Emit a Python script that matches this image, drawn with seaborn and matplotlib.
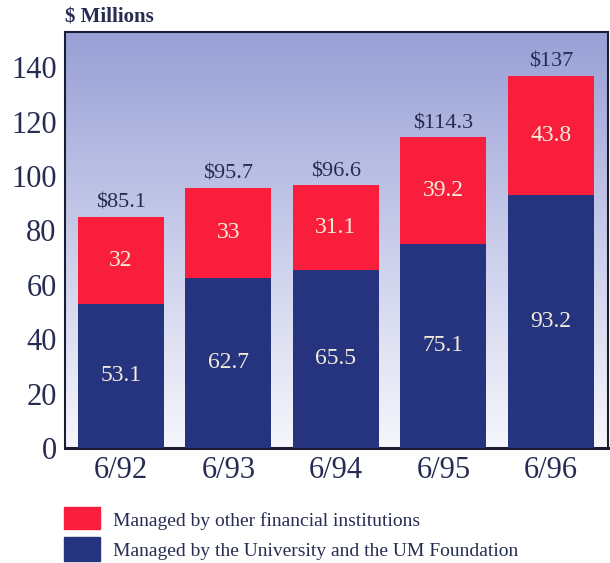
import numpy as np
import pandas as pd
import matplotlib.pyplot as plt
import seaborn as sns
from matplotlib.colors import LinearSegmentedColormap

# data
periods = ['6/92', '6/93', '6/94', '6/95', '6/96']
university = [53.1, 62.7, 65.5, 75.1, 93.2]
other = [32, 33, 31.1, 39.2, 43.8]
totals = ['$85.1', '$95.7', '$96.6', '$114.3', '$137']
y_ticks = [0, 20, 40, 60, 80, 100, 120, 140]

navy = '#26337f'
red = '#f81e3c'
ink = '#262c52'
cream = '#f3ecd9'

df = pd.DataFrame({'period': periods, 'univ': university, 'other': other})
df['total'] = df['univ'] + df['other']

sns.set_style('white')
plt.rcParams['font.family'] = ['Liberation Serif', 'DejaVu Serif']

fig = plt.figure(figsize=(6.1, 5.63), dpi=100)
ax = fig.add_axes([65 / 610, 1 - 448 / 563, 543 / 610, 416 / 563])

# lavender gradient background
grad = np.linspace(0, 1, 256).reshape(-1, 1)
cmap = LinearSegmentedColormap.from_list('bg', ['#f6f6fc', '#c9cdea', '#98a0d6'])
ax.imshow(grad, extent=[-0.52, 4.53, 0, 153], aspect='auto', cmap=cmap,
          origin='lower', zorder=0)

sns.barplot(data=df, x='period', y='total', color=red, width=0.8,
            saturation=1, linewidth=0, ax=ax, zorder=2)
sns.barplot(data=df, x='period', y='univ', color=navy, width=0.8,
            saturation=1, linewidth=0, ax=ax, zorder=3)

for i, row in df.iterrows():
    ax.text(i, row['univ'] / 2, f"{row['univ']:g}", ha='center', va='center',
            color=cream, fontsize=17, zorder=4)
    ax.text(i, row['univ'] + row['other'] / 2, f"{row['other']:g}", ha='center',
            va='center', color=cream, fontsize=17, zorder=4)
    ax.text(i, row['total'] + 1.5, totals[i], ha='center', va='bottom',
            color=ink, fontsize=16, zorder=4)

ax.set_xlim(-0.52, 4.53)
ax.set_ylim(0, 153)
ax.set_yticks(y_ticks)
ax.set_xlabel('')
ax.set_ylabel('')
ax.tick_params(axis='y', labelsize=22, labelcolor=ink, length=0, pad=6)
ax.tick_params(axis='x', labelsize=22, labelcolor=ink, length=0, pad=6)
for s in ax.spines.values():
    s.set_color('#1b1d33')
    s.set_linewidth(1.5)
ax.spines['bottom'].set_linewidth(2.2)

fig.text(65 / 610, 1 - 18 / 563, '$ Millions', fontsize=15, fontweight='bold',
         color=ink, ha='left', va='center')

# legend
fig.patches.append(plt.Rectangle((64 / 610, 1 - 529 / 563), 36 / 610, 22 / 563,
                                 color=red, transform=fig.transFigure))
fig.patches.append(plt.Rectangle((64 / 610, 1 - 561 / 563), 36 / 610, 24 / 563,
                                 color=navy, transform=fig.transFigure))
fig.text(113 / 610, 1 - 521 / 563, 'Managed by other financial institutions',
         fontsize=14, color=ink, ha='left', va='center')
fig.text(113 / 610, 1 - 551 / 563, 'Managed by the University and the UM Foundation',
         fontsize=14, color=ink, ha='left', va='center')

fig.savefig('out.png', dpi=100)
